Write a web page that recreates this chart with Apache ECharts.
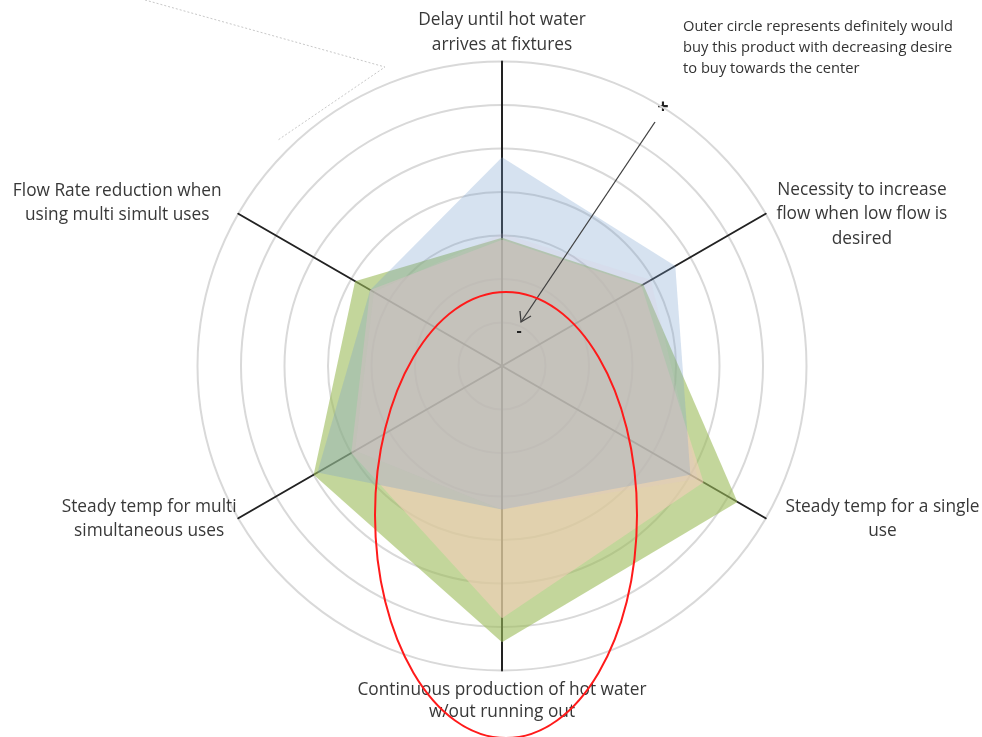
<!DOCTYPE html>
<html>
<head>
<meta charset="utf-8">
<script src="https://cdn.jsdelivr.net/npm/echarts@6/dist/echarts.min.js"></script>
<style>
html,body{margin:0;padding:0;background:#ffffff;}
#chart{width:982px;height:737px;}
</style>
</head>
<body>
<div id="chart"></div>
<script>
// Indicators in ECharts order (counter-clockwise from top)
const indicatorNames = [
  "Delay until hot water\narrives at fixtures",
  "Flow Rate reduction when\nusing multi simult uses",
  "Steady temp for multi\nsimultaneous uses",
  "Continuous production of hot water\nw/out running out",
  "Steady temp for a single\nuse",
  "Necessity to increase\nflow when low flow is\ndesired"
];
const indicatorKeys = ["top", "ul", "ll", "bot", "lr", "ur"];
const scaleMax = 7;

// Series values (same order as indicators)
const seriesGreen  = [2.95, 3.9, 5.0, 6.35, 6.25, 3.75];
const seriesOrange = [2.9, 3.5, 4.0, 5.8, 5.35, 3.7];
const seriesBlue   = [4.8, 3.5, 4.9, 3.3, 5.0, 4.6];
const seriesPurple = [3.05, 3.4, 3.9, 3.3, 5.2, 3.95];

const noteLines = [
  "Outer circle represents definitely would",
  "buy this product with decreasing desire",
  "to buy towards the center"
];

const FONT = "Open Sans";
const LABEL_SIZE = 17.3;
const labelColor = "#383838";

// per-label fine placement: padding [top, right, bottom, left] and line height
const labelPad = {
  top: {pad: [0, 0, 4, 0], lh: 25},
  ul:  {pad: [0, 15, 20, 0], lh: 24},
  ll:  {pad: [0, 0, 0, 0], lh: 24},
  bot: {pad: [13, 0, 0, 0], lh: 22},
  lr:  {pad: [0, 0, 0, 18], lh: 24},
  ur:  {pad: [3.5, 0, 0, 9], lh: 24.5}
};
const rich = {};
indicatorKeys.forEach(k => {
  rich[k] = {align: "center", fontFamily: FONT, fontSize: LABEL_SIZE, color: labelColor,
             lineHeight: labelPad[k].lh, padding: labelPad[k].pad};
});

const chart = echarts.init(document.getElementById("chart"), null, {renderer: "canvas"});

function areaSeries(name, values, color, opacity) {
  return {
    type: "radar",
    name: name,
    symbol: "none",
    silent: true,
    lineStyle: {width: 0, opacity: 0},
    areaStyle: {color: color, opacity: opacity},
    data: [{value: values, name: name}]
  };
}

chart.setOption({
  animation: false,
  backgroundColor: "#ffffff",
  radar: {
    center: [502, 366],
    radius: 304.5,
    shape: "circle",
    splitNumber: 7,
    startAngle: 90,
    indicator: indicatorNames.map(n => ({name: n, min: 0, max: scaleMax})),
    nameGap: 2,
    axisName: {
      formatter: function (name) {
        const key = indicatorKeys[indicatorNames.indexOf(name)];
        return name.split("\n").map(l => "{" + key + "|" + l + "}").join("\n");
      },
      rich: rich,
      color: labelColor,
      fontFamily: FONT,
      fontSize: LABEL_SIZE
    },
    axisLine: {lineStyle: {color: "#222222", width: 2}},
    splitLine: {lineStyle: {color: "#d9d9d9", width: 2}},
    splitArea: {show: false},
    axisTick: {show: false},
    axisLabel: {show: false}
  },
  series: [
    areaSeries("Green", seriesGreen, "#9BBB59", 0.6),
    areaSeries("Orange", seriesOrange, "#FACDBE", 0.55),
    areaSeries("Blue", seriesBlue, "#769ECD", 0.3),
    areaSeries("Purple", seriesPurple, "#DCC3D7", 0.15)
  ],
  graphic: [
    {
      type: "text", x: 683, y: 16, silent: true,
      style: {text: noteLines.join("\n"), font: "14.7px 'Open Sans'", fill: "#333333", lineHeight: 21}
    },
    {
      type: "text", x: 663, y: 107, silent: true,
      style: {text: "+", font: "bold 20px 'Open Sans'", fill: "#222222", textAlign: "center", textVerticalAlign: "middle"}
    },
    {
      type: "text", x: 519, y: 331, silent: true, z: 5,
      style: {text: "-", font: "bold 16px 'Open Sans'", fill: "#222222", textAlign: "center", textVerticalAlign: "middle"}
    },
    {
      type: "line", silent: true, z: 5,
      shape: {x1: 655, y1: 122, x2: 521, y2: 322},
      style: {stroke: "#404040", lineWidth: 1.3}
    },
    {
      type: "polyline", silent: true, z: 5,
      shape: {points: [[520, 311], [521, 322], [531, 316]]},
      style: {stroke: "#404040", lineWidth: 1.3, fill: null}
    },
    {
      type: "ellipse", silent: true, z: 10,
      shape: {cx: 506, cy: 515, rx: 131, ry: 223},
      style: {stroke: "#ff1a1a", lineWidth: 2, fill: null}
    },
    {
      type: "polyline", silent: true,
      shape: {points: [[145, 0], [385, 67], [278, 140]]},
      style: {stroke: "#c8c8c8", lineWidth: 1, lineDash: [2, 2], fill: null}
    }
  ]
});
</script>
</body>
</html>
